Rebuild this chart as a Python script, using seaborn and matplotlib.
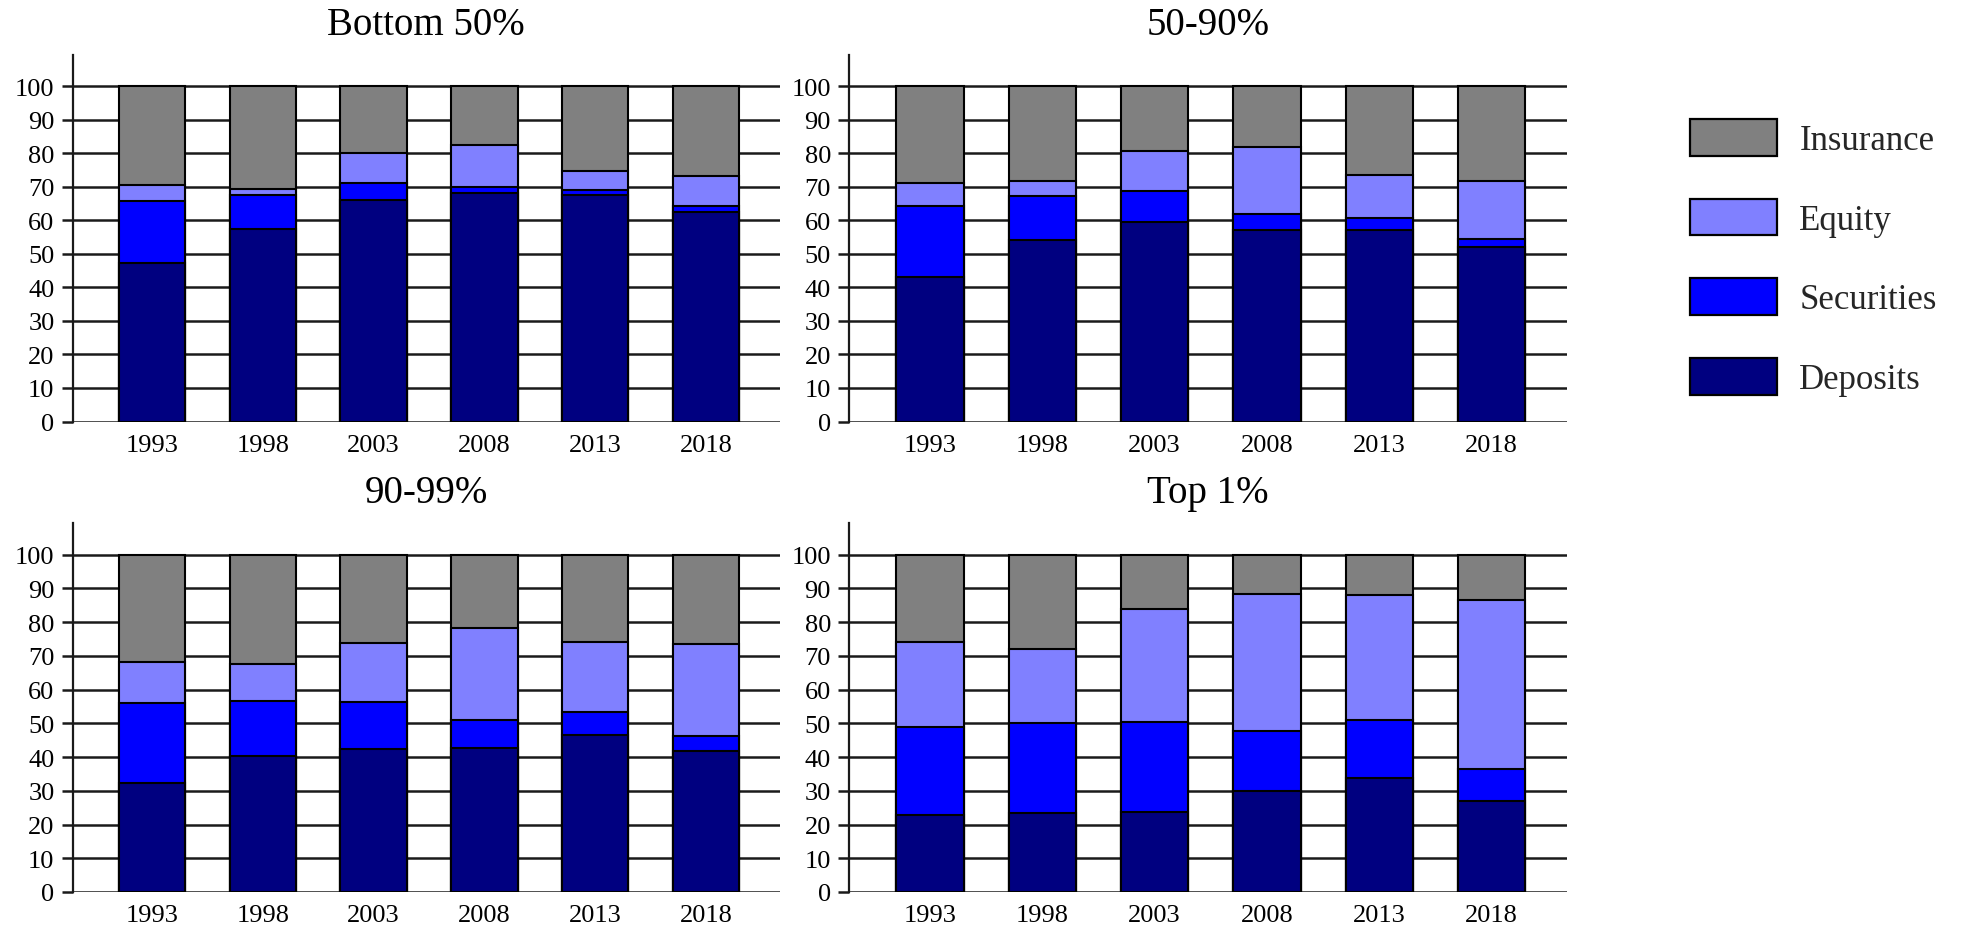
import matplotlib
matplotlib.use("Agg")
import matplotlib.pyplot as plt
from matplotlib.patches import Patch
import pandas as pd
import numpy as np
import seaborn as sns

# Survey years shown on every panel
years = ["1993", "1998", "2003", "2008", "2013", "2018"]
groups = ["Bottom 50%", "50-90%", "90-99%", "Top 1%"]
assets = ["Deposits", "Securities", "Equity", "Insurance"]

# Portfolio shares (%) by wealth group
b50_deposits = [47.2, 57.5, 66.0, 68.2, 67.6, 62.5]
b50_securities = [18.5, 10.1, 5.2, 1.9, 1.6, 1.8]
b50_equity = [5.0, 1.8, 8.9, 12.5, 5.5, 8.9]
b50_insurance = [29.3, 30.6, 19.9, 17.4, 25.3, 26.8]

m50_90_deposits = [43.1, 54.1, 59.5, 57.3, 57.3, 52.0]
m50_90_securities = [21.2, 13.3, 9.2, 4.6, 3.5, 2.5]
m50_90_equity = [6.9, 4.3, 11.9, 19.9, 12.7, 17.2]
m50_90_insurance = [28.8, 28.3, 19.4, 18.2, 26.5, 28.3]

t90_99_deposits = [32.4, 40.4, 42.4, 42.6, 46.5, 41.9]
t90_99_securities = [23.6, 16.3, 13.8, 8.4, 6.8, 4.4]
t90_99_equity = [12.3, 10.8, 17.6, 27.4, 20.9, 27.3]
t90_99_insurance = [31.7, 32.5, 26.2, 21.6, 25.8, 26.4]

top1_deposits = [22.7, 23.5, 23.7, 29.8, 33.7, 27.0]
top1_securities = [26.3, 26.6, 26.8, 17.8, 17.4, 9.6]
top1_equity = [25.1, 22.0, 33.5, 40.7, 37.1, 49.9]
top1_insurance = [25.9, 27.9, 16.0, 11.7, 11.8, 13.5]

colors = {
    "Deposits": "#000080",
    "Securities": "#0000FF",
    "Equity": "#8080FF",
    "Insurance": "#808080",
}

panel_data = {
    "Bottom 50%": [b50_deposits, b50_securities, b50_equity, b50_insurance],
    "50-90%": [m50_90_deposits, m50_90_securities, m50_90_equity, m50_90_insurance],
    "90-99%": [t90_99_deposits, t90_99_securities, t90_99_equity, t90_99_insurance],
    "Top 1%": [top1_deposits, top1_securities, top1_equity, top1_insurance],
}

rows = []
for g in groups:
    for a, vals in zip(assets, panel_data[g]):
        for y, v in zip(years, vals):
            rows.append({"group": g, "asset": a, "year": y, "share": v})
df = pd.DataFrame(rows)
# cumulative top of each stacked segment
df["top"] = df.groupby(["group", "year"])["share"].cumsum()

sns.set_theme(style="white")
plt.rcParams["font.family"] = ["Liberation Serif", "DejaVu Serif"]

fig = plt.figure(figsize=(19.66, 9.29), dpi=100)
W, H = 1966, 929
boxes = [
    (72.5, 56, 780, 422.5),
    (849, 56, 1567, 422.5),
    (72.5, 524, 780, 893),
    (849, 524, 1567, 893),
]

for g, (x0, y0, x1, y1) in zip(groups, boxes):
    ax = fig.add_axes([x0 / W, 1 - y1 / H, (x1 - x0) / W, (y1 - y0) / H])
    sub = df[df["group"] == g]
    # draw from the tallest cumulative layer down so each segment shows
    for a in assets[::-1]:
        layer = sub[sub["asset"] == a]
        sns.barplot(data=layer, x="year", y="top", order=years, color=colors[a],
                    saturation=1, width=0.6, edgecolor="black", linewidth=1.5,
                    errorbar=None, ax=ax)
    ax.set_xlim(-0.72, 5.67)
    ax.set_ylim(0, 109.4)
    ax.set_yticks(np.arange(0, 101, 10))
    ax.yaxis.grid(True, color="#1a1a1a", linewidth=1.8)
    ax.xaxis.grid(False)
    ax.set_axisbelow(True)
    for s in ["top", "right", "bottom"]:
        ax.spines[s].set_visible(False)
    ax.spines["left"].set_color("#1a1a1a")
    ax.spines["left"].set_linewidth(1.6)
    ax.tick_params(axis="y", which="major", left=True, length=8, width=1.8,
                   color="#1a1a1a", labelsize=19, pad=5, labelcolor="black")
    ax.tick_params(axis="x", length=0, labelsize=19, pad=9, labelcolor="black")
    ax.set_xlabel("")
    ax.set_ylabel("")
    ax.set_title(g, fontsize=28, pad=15, color="black")

handles = [Patch(facecolor=colors[a], edgecolor="black", linewidth=1.6, label=a)
           for a in assets[::-1]]
fig.legend(handles=handles, loc="upper left", bbox_to_anchor=(1690 / W, 1 - 120 / H),
           frameon=False, fontsize=25, handlelength=2.5, handleheight=1.25,
           handletextpad=0.65, labelspacing=1.2, borderpad=0, borderaxespad=0)

fig.savefig("out.png", dpi=100, facecolor="white")
